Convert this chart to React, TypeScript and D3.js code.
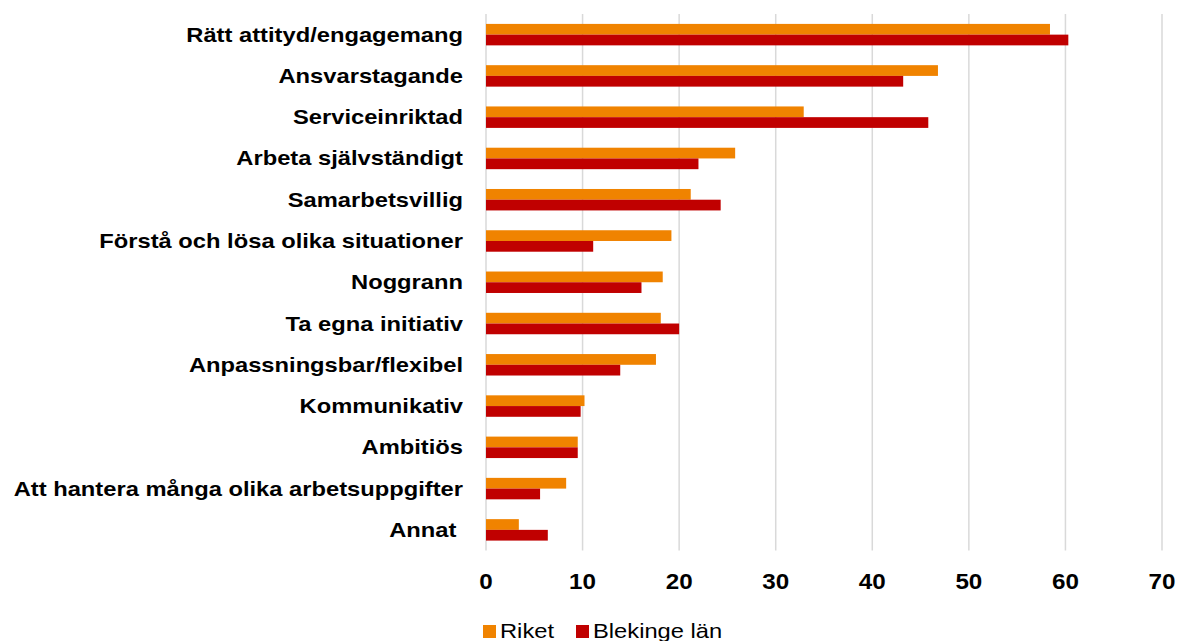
import React, { useEffect, useRef } from "react";
import * as d3 from "d3";

const categories = [
  "Rätt attityd/engagemang",
  "Ansvarstagande",
  "Serviceinriktad",
  "Arbeta självständigt",
  "Samarbetsvillig",
  "Förstå och lösa olika situationer",
  "Noggrann",
  "Ta egna initiativ",
  "Anpassningsbar/flexibel",
  "Kommunikativ",
  "Ambitiös",
  "Att hantera många olika arbetsuppgifter",
  "Annat ",
];

const riket = [58.4, 46.8, 32.9, 25.8, 21.2, 19.2, 18.3, 18.1, 17.6, 10.2, 9.5, 8.3, 3.4];
const blekinge = [60.3, 43.2, 45.8, 22.0, 24.3, 11.1, 16.1, 20.0, 13.9, 9.8, 9.5, 5.6, 6.4];

const seriesNames = ["Riket", "Blekinge län"];
const colors = ["#F08300", "#C00000"];
const xTicks = [0, 10, 20, 30, 40, 50, 60, 70];

const App = () => {
  const svgRef = useRef<SVGSVGElement | null>(null);

  useEffect(() => {
    if (!svgRef.current) return;
    const width = 1183;
    const height = 641;
    const left = 486;
    const right = 1162;
    const top = 14;
    const bottom = 550.5;
    const font = "'Liberation Sans', Arial, sans-serif";
    // the original text is a bit wider than Arial, stretch it
    const sx = 1.13;

    const svg = d3.select(svgRef.current);
    svg.selectAll("*").remove();
    svg.attr("width", width).attr("height", height);

    const x = d3.scaleLinear().domain([0, 70]).range([left, right]);
    const y = d3
      .scaleBand()
      .domain(categories)
      .range([top, bottom])
      .paddingInner(0.48)
      .paddingOuter(0.24);
    const barH = y.bandwidth() / 2;

    // gridlines
    svg
      .append("g")
      .selectAll("line")
      .data(xTicks)
      .enter()
      .append("line")
      .attr("x1", (d) => x(d))
      .attr("x2", (d) => x(d))
      .attr("y1", top)
      .attr("y2", bottom)
      .attr("stroke", "#d9d9d9")
      .attr("stroke-width", 1.5);

    // bars
    const rows = categories.map((c, i) => ({ c, vals: [riket[i], blekinge[i]] }));
    rows.forEach((r) => {
      r.vals.forEach((v, s) => {
        svg
          .append("rect")
          .attr("x", x(0))
          .attr("y", (y(r.c) as number) + s * barH)
          .attr("width", x(v) - x(0))
          .attr("height", barH)
          .attr("fill", colors[s]);
      });
    });

    // category labels
    svg
      .append("g")
      .selectAll("text")
      .data(categories)
      .enter()
      .append("text")
      .attr(
        "transform",
        (d) => `translate(${left - 23},${(y(d) as number) + barH + 7}) scale(${sx},1)`
      )
      .attr("text-anchor", "end")
      .style("white-space", "pre")
      .attr("font-family", font)
      .attr("font-weight", "bold")
      .attr("font-size", 21)
      .attr("fill", "#000")
      .text((d) => d);

    // x tick labels
    svg
      .append("g")
      .selectAll("text")
      .data(xTicks)
      .enter()
      .append("text")
      .attr("transform", (d) => `translate(${x(d)},588.5) scale(1.1,1)`)
      .attr("text-anchor", "middle")
      .attr("font-family", font)
      .attr("font-weight", "bold")
      .attr("font-size", 22)
      .attr("fill", "#000")
      .text((d) => d);

    // legend
    const legendX = [483, 576];
    seriesNames.forEach((name, i) => {
      svg
        .append("rect")
        .attr("x", legendX[i])
        .attr("y", 625)
        .attr("width", 13)
        .attr("height", 13)
        .attr("fill", colors[i]);
      svg
        .append("text")
        .attr("transform", `translate(${legendX[i] + 17},637.5) scale(${sx},1)`)
        .attr("font-family", font)
        .attr("font-size", 21)
        .attr("fill", "#000")
        .text(name);
    });
  }, []);

  return (
    <svg
      ref={svgRef}
      style={{ position: "absolute", left: 0, top: 0, background: "#fff" }}
    ></svg>
  );
};

export default App;
